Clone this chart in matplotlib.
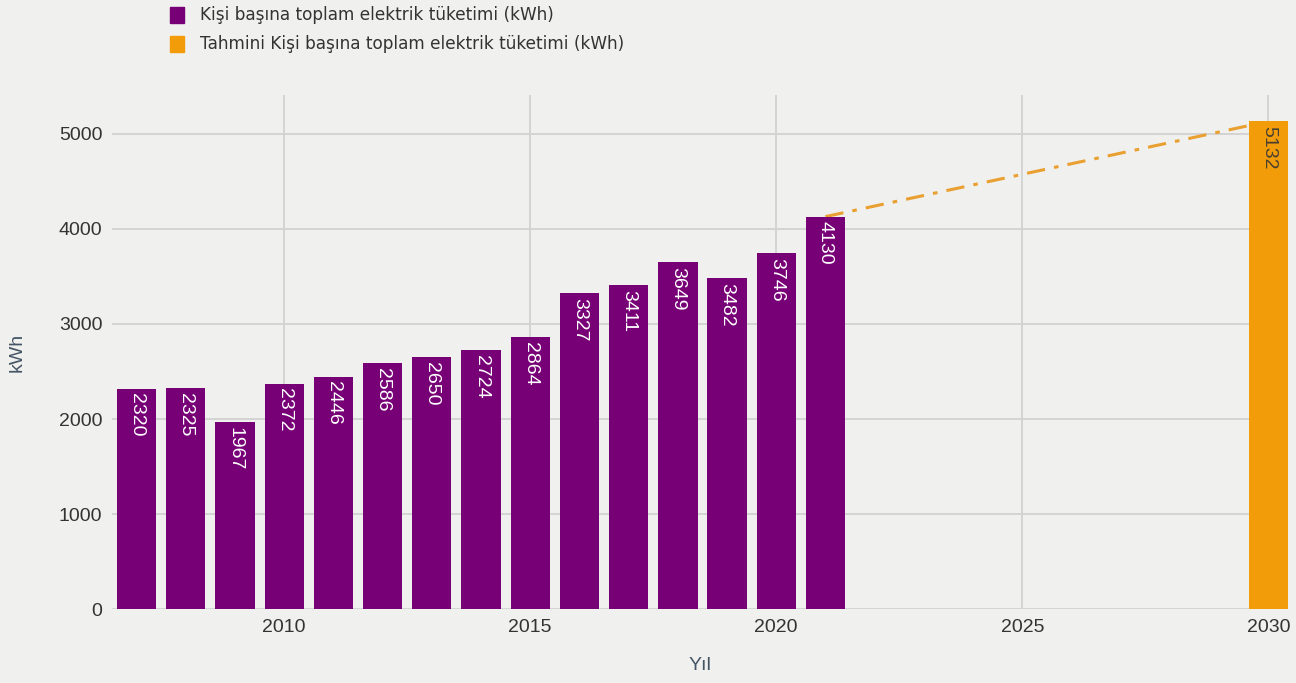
import matplotlib.pyplot as plt
from matplotlib.patches import Rectangle

years = [2007, 2008, 2009, 2010, 2011, 2012, 2013, 2014, 2015, 2016, 2017, 2018, 2019, 2020, 2021]
kwh = [2320, 2325, 1967, 2372, 2446, 2586, 2650, 2724, 2864, 3327, 3411, 3649, 3482, 3746, 4130]
forecast_year = [2030]
forecast_kwh = [5132]
xticks = [2010, 2015, 2020, 2025, 2030]
yticks = [0, 1000, 2000, 3000, 4000, 5000]

bg = '#f0f0ee'
purple = '#770077'
orange = '#f29c0a'

fig = plt.figure(figsize=(12.96, 6.83), dpi=100, facecolor=bg)
ax = fig.add_axes([0.0864, 0.1083, 0.9074, 0.7526])
ax.set_facecolor(bg)

ax.bar(years, kwh, width=0.8, color=purple, zorder=3)
ax.bar(forecast_year, forecast_kwh, width=0.8, color=orange, zorder=3)
ax.plot([years[-1], forecast_year[0]], [kwh[-1], forecast_kwh[0]],
        color='#eaa030', lw=2.2, linestyle=(0, (6, 3, 1.5, 3)), zorder=2)

for x, v in zip(years, kwh):
    ax.text(x, v - 50, str(v), rotation=270, ha='center', va='top', color='white',
            fontsize=14, family='Liberation Sans', zorder=4)
for x, v in zip(forecast_year, forecast_kwh):
    ax.text(x, v - 50, str(v), rotation=270, ha='center', va='top', color='#4a4030',
            fontsize=14, family='Liberation Sans', zorder=4)

ax.set_xlim(2006.5, 2030.4)
ax.set_ylim(0, 5410)
ax.set_xticks(xticks)
ax.set_yticks(yticks)
ax.grid(True, color='#d2d2d2', lw=1.3, zorder=0)
for s in ax.spines.values():
    s.set_visible(False)
ax.tick_params(length=0, labelsize=14, colors='#333333', pad=7)
for lab in ax.get_xticklabels() + ax.get_yticklabels():
    lab.set_family('Liberation Sans')

ax.set_xlabel('Yıl', fontsize=14, color='#445566', family='Liberation Sans', va='center')
ax.set_ylabel('kWh', fontsize=14, color='#445566', family='Liberation Sans', va='center')
ax.xaxis.set_label_coords(0.5, -0.109)
ax.yaxis.set_label_coords(-0.0805, 0.5)

# legend at top
fig.patches.append(Rectangle((170 / 1296, 1 - 23 / 683), 14 / 1296, 16 / 683,
                             transform=fig.transFigure, color=purple))
fig.patches.append(Rectangle((170 / 1296, 1 - 52 / 683), 14 / 1296, 16 / 683,
                             transform=fig.transFigure, color=orange))
fig.text(200 / 1296, 1 - 15 / 683, 'Kişi başına toplam elektrik tüketimi (kWh)',
         va='center', fontsize=12.2, color='#333333', family='DejaVu Sans')
fig.text(200 / 1296, 1 - 44 / 683, 'Tahmini Kişi başına toplam elektrik tüketimi (kWh)',
         va='center', fontsize=12.2, color='#333333', family='DejaVu Sans')

fig.savefig('out.png', dpi=100, facecolor=bg)
